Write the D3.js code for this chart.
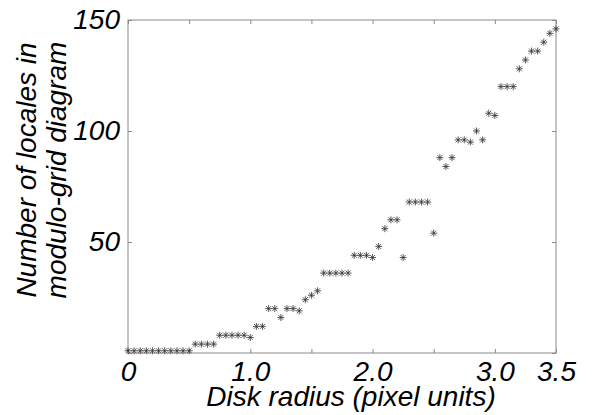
<!DOCTYPE html>
<html><head><meta charset="utf-8">
<script src="https://cdn.jsdelivr.net/npm/d3@7"></script>
<style>body{margin:0;background:#fff} svg{display:block}</style>
</head><body><svg id="c" width="592" height="415"></svg>
<script>
const radius = [0,0.05,0.1,0.15,0.2,0.25,0.3,0.35,0.4,0.45,0.5,0.55,0.6,0.65,0.7,0.75,0.8,0.85,0.9,0.95,
  1.0,1.05,1.1,1.15,1.2,1.25,1.3,1.35,1.4,1.45,1.5,1.55,1.6,1.65,1.7,1.75,1.8,1.85,1.9,1.95,
  2.0,2.05,2.1,2.15,2.2,2.25,2.3,2.35,2.4,2.45,2.5,2.55,2.6,2.65,2.7,2.75,2.8,2.85,2.9,2.95,
  3.0,3.05,3.1,3.15,3.2,3.25,3.3,3.35,3.4,3.45,3.5];
const locales = [1,1,1,1,1,1,1,1,1,1,1,4,4,4,4,8,8,8,8,8,
  7,12,12,20,20,16,20,20,19,24,26,28,36,36,36,36,36,44,44,44,
  43,48,56,60,60,43,68,68,68,68,54,88,84,88,96,96,95,100,96,108,
  107,120,120,120,128,132,136,136,140,144,146];
const xTickValues = [0,0.5,1,1.5,2,2.5,3,3.5];
const xTickLabels = ["0","","1.0","","2.0","","3.0","3.5"];
const yTickValues = [0,50,100,150];
const yTickLabels = ["","50","100","150"];
const xLabel = "Disk radius (pixel units)";
const yLabelLines = ["Number of locales in","modulo-grid diagram"];

const FONT = "'Liberation Sans', Arial, Helvetica, sans-serif";
const AXIS = "#8a8a8a";
const svg = d3.select("#c");
const x = d3.scaleLinear().domain([0,3.5]).range([128,556]);
const y = d3.scaleLinear().domain([0,150]).range([353,20]);

function style(g){
  g.select(".domain").remove();
  g.selectAll(".tick line").attr("stroke", AXIS);
  g.selectAll(".tick text").attr("fill","#000").attr("font-family",FONT)
   .attr("font-style","italic").attr("font-size",28);
}
svg.append("g").attr("transform",`translate(0,${y(0)})`)
  .call(d3.axisBottom(x).tickValues(xTickValues).tickSize(-4).tickPadding(8)
    .tickFormat((d,i)=>xTickLabels[xTickValues.indexOf(d)])).call(style);
svg.append("g").attr("transform",`translate(0,${y(150)})`)
  .call(d3.axisTop(x).tickValues(xTickValues).tickSize(-4).tickFormat(()=>"")).call(style);
svg.append("g").attr("transform",`translate(${x(0)},0)`)
  .call(d3.axisLeft(y).tickValues(yTickValues).tickSize(-4).tickPadding(8)
    .tickFormat((d,i)=>yTickLabels[yTickValues.indexOf(d)])).call(style);
svg.append("g").attr("transform",`translate(${x(3.5)},0)`)
  .call(d3.axisRight(y).tickValues(yTickValues).tickSize(-4).tickFormat(()=>"")).call(style);

svg.append("rect").attr("x",x(0)).attr("y",y(150)).attr("width",x(3.5)-x(0)).attr("height",y(0)-y(150))
  .attr("fill","none").attr("stroke",AXIS).attr("stroke-width",1);

const star = "M-3.5,0L3.5,0M0,-3.5L0,3.5M-2.5,-2.5L2.5,2.5M-2.5,2.5L2.5,-2.5";
svg.append("g").selectAll("path").data(radius.map((r,i)=>[r,locales[i]])).join("path")
  .attr("transform",d=>`translate(${x(d[0])},${y(d[1])})`)
  .attr("d",star).attr("fill","none").attr("stroke","#333").attr("stroke-width",0.8);

svg.append("text").attr("x",(x(0)+x(3.5))/2+9).attr("y",406).attr("text-anchor","middle")
  .attr("font-family",FONT).attr("font-style","italic").attr("font-size",28).text(xLabel);
const yl = svg.append("text").attr("transform","translate(0,170) rotate(-90)")
  .attr("text-anchor","middle").attr("font-family",FONT).attr("font-style","italic").attr("font-size",28);
yLabelLines.forEach((t,i)=>yl.append("tspan").attr("x",0).attr("y",36+i*30).text(t));
</script></body></html>
